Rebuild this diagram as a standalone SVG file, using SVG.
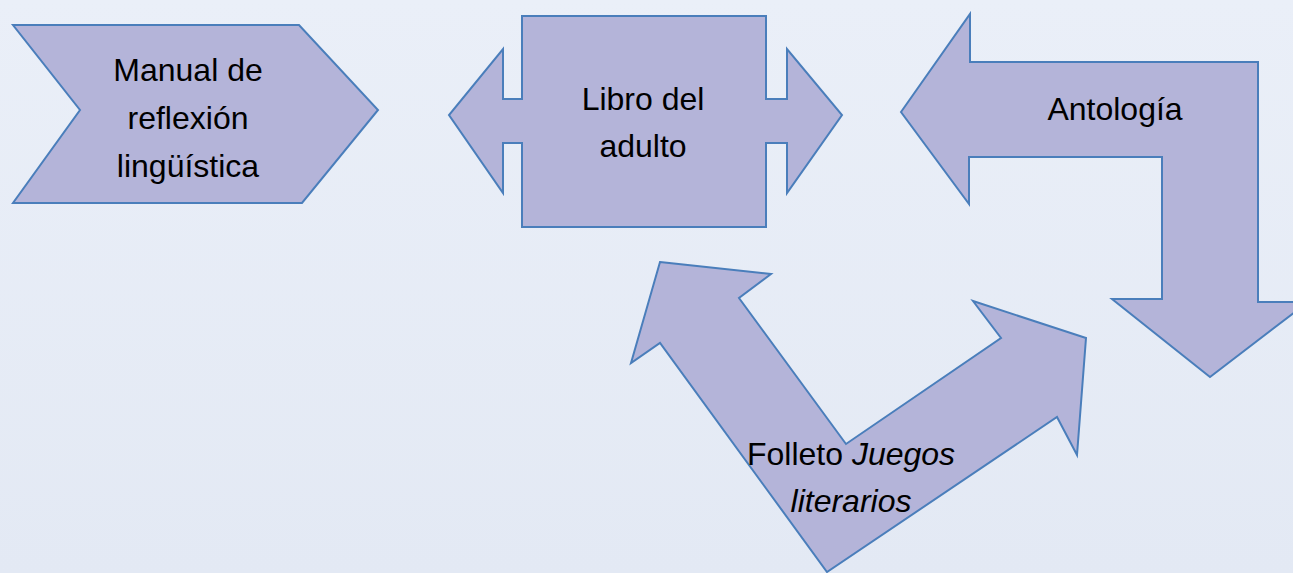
<svg xmlns="http://www.w3.org/2000/svg" width="1293" height="573" viewBox="0 0 1293 573">
<defs>
<linearGradient id="bg" x1="0" y1="0" x2="0" y2="1">
<stop offset="0" stop-color="#eaeff8"/>
<stop offset="1" stop-color="#e3e9f4"/>
</linearGradient>
</defs>
<style>
.shape{fill:#b4b4d9;stroke:#4a7ebb;stroke-width:2;stroke-linejoin:miter}
.lbl{font-family:"Liberation Sans",Arial,sans-serif;font-size:32px;fill:#000;text-anchor:middle}
.it{font-style:italic}
</style>
<rect x="0" y="0" width="1293" height="573" fill="url(#bg)"/>
<g id="connectors"></g>
<g id="manual">
<polygon class="shape" points="13,25 299,25 378,110 302,203 13,203 80,110"/>
<text class="lbl" x="188" y="81">Manual de</text>
<text class="lbl" x="188" y="129">reflexión</text>
<text class="lbl" x="188" y="177">lingüística</text>
</g>
<g id="libro">
<polygon class="shape" points="522,16 766,16 766,99 787,99 787,49 842,115 787,193 787,143 766,143 766,227 522,227 522,143 503,143 503,193 449,115 503,49 503,99 522,99"/>
<text class="lbl" x="643" y="110">Libro del</text>
<text class="lbl" x="643" y="157">adulto</text>
</g>
<g id="antologia">
<polygon class="shape" points="901,112 970,14 970,62 1258,62 1258,302 1308,302 1210,377 1112,299 1162,299 1162,157 969,157 969,204"/>
<text class="lbl" x="1115" y="120">Antología</text>
</g>
<g id="folleto">
<polygon class="shape" points="660,262 771,274 739,298 846,444 1001,338 973,301 1086,338 1077,455 1057,417 827,572 660,343 631,363"/>
<text class="lbl" x="851" y="465">Folleto <tspan class="it">Juegos</tspan></text>
<text class="lbl it" x="851" y="512">literarios</text>
</g>
</svg>
